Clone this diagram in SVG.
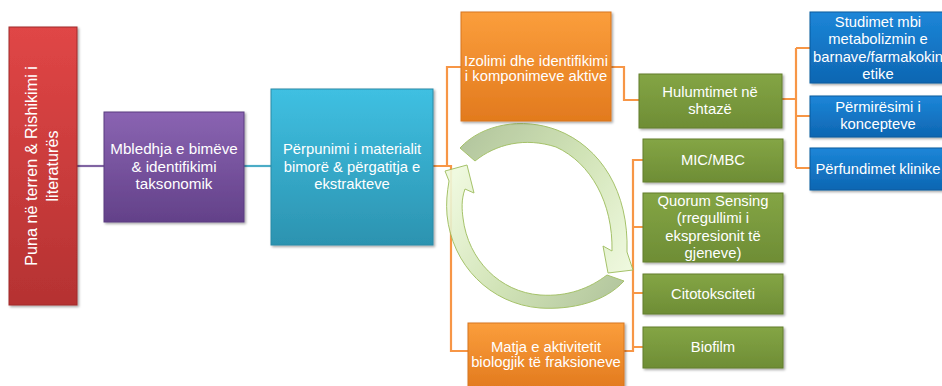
<svg xmlns="http://www.w3.org/2000/svg" width="942" height="386" viewBox="0 0 942 386">
<defs>
<linearGradient id="gRed" x1="0" y1="0" x2="0" y2="1"><stop offset="0" stop-color="#e04646"/><stop offset="1" stop-color="#b53232"/></linearGradient>
<linearGradient id="gPur" x1="0" y1="0" x2="0" y2="1"><stop offset="0" stop-color="#8a64b2"/><stop offset="1" stop-color="#634189"/></linearGradient>
<linearGradient id="gCyan" x1="0" y1="0" x2="0" y2="1"><stop offset="0" stop-color="#3fc0e2"/><stop offset="1" stop-color="#2c93b0"/></linearGradient>
<linearGradient id="gOr" x1="0" y1="0" x2="0" y2="1"><stop offset="0" stop-color="#fb9e3c"/><stop offset="1" stop-color="#e27a1e"/></linearGradient>
<linearGradient id="gGr" x1="0" y1="0" x2="0" y2="1"><stop offset="0" stop-color="#84a545"/><stop offset="1" stop-color="#6e8d35"/></linearGradient>
<linearGradient id="gBl" x1="0" y1="0" x2="0" y2="1"><stop offset="0" stop-color="#1c86d8"/><stop offset="1" stop-color="#0e66b2"/></linearGradient>
<linearGradient id="gA1" x1="460" y1="150" x2="630" y2="270" gradientUnits="userSpaceOnUse"><stop offset="0" stop-color="#adc295"/><stop offset="0.5" stop-color="#cde1b0"/><stop offset="1" stop-color="#eef9dc"/></linearGradient>
<linearGradient id="gA2" x1="620" y1="285" x2="455" y2="175" gradientUnits="userSpaceOnUse"><stop offset="0" stop-color="#adc295"/><stop offset="0.5" stop-color="#cde1b0"/><stop offset="1" stop-color="#eef9dc"/></linearGradient>
<filter id="sh" x="-10%" y="-10%" width="130%" height="130%"><feDropShadow dx="1.5" dy="1.5" stdDeviation="1.2" flood-color="#000" flood-opacity="0.35"/></filter>
</defs>
<style>
.box{filter:url(#sh);stroke-width:1}
.t{font-family:"Liberation Sans","Open Sans",Arial,sans-serif;font-size:14.8px;fill:#ffffff;text-anchor:middle}
.c{fill:none;stroke-width:2.2;stroke-linejoin:miter}
.co{stroke:#f79646}
.arr{stroke:#9bbb59;stroke-width:1;opacity:0.9}
</style>

<g id="connectors">
<path class="c" stroke="#8064a2" d="M77,166 H104"/>
<path class="c" stroke="#4bacc6" d="M244,166 H271"/>
<path class="c co" d="M433,166 H447 V67 H461"/>
<path class="c co" d="M433,166 H451 V351 H468"/>
<path class="c co" d="M611,67 H624 V100 H639"/>
<path class="c co" d="M782,99 H796 M796,48 V168 M796,48 H810 M796,116 H810 M796,168 H810"/>
<path class="c co" d="M624,351 H633 V160 H643 M633,227 H643 M633,293 H643 M633,347 H643"/>
</g>

<g id="cycle">
<path class="arr" fill="url(#gA1)" d="M460,148 C482,124 522,117 557,130 C601,147 629,192 627,252 L633,270 L608,273 L603,246 L612,251 C613,203 591,163 556,147 C525,137 496,144 475,161 Z"/>
<path class="arr" fill="url(#gA2)" d="M624,281 C605,302 572,310 540,308 C490,304 452,265 447,215 C446,203 447,193 449,181 L445,171 L467,165 L474,193 L465,189 C461,200 462,210 463,218 C468,260 500,292 540,295 C568,297 590,288 607,275 Z"/>
</g>

<g id="n-red">
<rect class="box" x="9" y="27" width="68" height="278" fill="url(#gRed)" stroke="#a02a2a"/>
<text class="t" style="font-size:16.2px" transform="translate(37,166) rotate(-90)">Puna në terren &amp; Rishikimi i</text>
<text class="t" style="font-size:16.2px" transform="translate(58,166) rotate(-90)">literaturës</text>
</g>

<g id="n-purple">
<rect class="box" x="104" y="112" width="140" height="110" fill="url(#gPur)" stroke="#5a3c80"/>
<text class="t" style="font-size:15.2px" x="174" y="154">Mbledhja e bimëve</text>
<text class="t" style="font-size:15.2px" x="174" y="172">&amp; identifikimi</text>
<text class="t" style="font-size:15.2px" x="174" y="189">taksonomik</text>
</g>

<g id="n-cyan">
<rect class="box" x="271" y="89" width="162" height="156" fill="url(#gCyan)" stroke="#2a8aa6"/>
<text class="t" x="352" y="154">Përpunimi i materialit</text>
<text class="t" x="352" y="172">bimorë &amp; përgatitja e</text>
<text class="t" x="352" y="189">ekstrakteve</text>
</g>

<g id="n-izolimi">
<rect class="box" x="461" y="12" width="150" height="109" fill="url(#gOr)" stroke="#d8761e"/>
<text class="t" x="536" y="66">Izolimi dhe identifikimi</text>
<text class="t" x="536" y="81">i komponimeve aktive</text>
</g>

<g id="n-hulumtimet">
<rect class="box" x="639" y="74" width="143" height="54" fill="url(#gGr)" stroke="#627f2e"/>
<text class="t" x="710" y="97">Hulumtimet në</text>
<text class="t" x="710" y="114">shtazë</text>
</g>

<g id="n-studimet">
<rect class="box" x="810" y="12" width="136" height="71" fill="url(#gBl)" stroke="#0b5a9e"/>
<text class="t" x="878" y="27">Studimet mbi</text>
<text class="t" x="878" y="44">metabolizmin e</text>
<text class="t" x="878" y="62">barnave/farmakokin</text>
<text class="t" x="878" y="79">etike</text>
</g>

<g id="n-permiresimi">
<rect class="box" x="810" y="96" width="136" height="41" fill="url(#gBl)" stroke="#0b5a9e"/>
<text class="t" x="878" y="112">Përmirësimi i</text>
<text class="t" x="878" y="129">koncepteve</text>
</g>

<g id="n-perfundimet">
<rect class="box" x="810" y="148" width="136" height="42" fill="url(#gBl)" stroke="#0b5a9e"/>
<text class="t" x="878" y="174">Përfundimet klinike</text>
</g>

<g id="n-mic">
<rect class="box" x="643" y="139" width="140" height="43" fill="url(#gGr)" stroke="#627f2e"/>
<text class="t" x="713" y="165">MIC/MBC</text>
</g>

<g id="n-quorum">
<rect class="box" x="643" y="193" width="140" height="69" fill="url(#gGr)" stroke="#627f2e"/>
<text class="t" x="713" y="206">Quorum Sensing</text>
<text class="t" x="713" y="223">(rregullimi i</text>
<text class="t" x="713" y="241">ekspresionit të</text>
<text class="t" x="713" y="258">gjeneve)</text>
</g>

<g id="n-cito">
<rect class="box" x="643" y="274" width="140" height="40" fill="url(#gGr)" stroke="#627f2e"/>
<text class="t" x="713" y="299">Citotoksciteti</text>
</g>

<g id="n-biofilm">
<rect class="box" x="643" y="327" width="140" height="41" fill="url(#gGr)" stroke="#627f2e"/>
<text class="t" x="713" y="352">Biofilm</text>
</g>

<g id="n-matja">
<rect class="box" x="468" y="323" width="156" height="66" fill="url(#gOr)" stroke="#d8761e"/>
<text class="t" x="546" y="352">Matja e aktivitetit</text>
<text class="t" x="546" y="367">biologjik të fraksioneve</text>
</g>
</svg>
